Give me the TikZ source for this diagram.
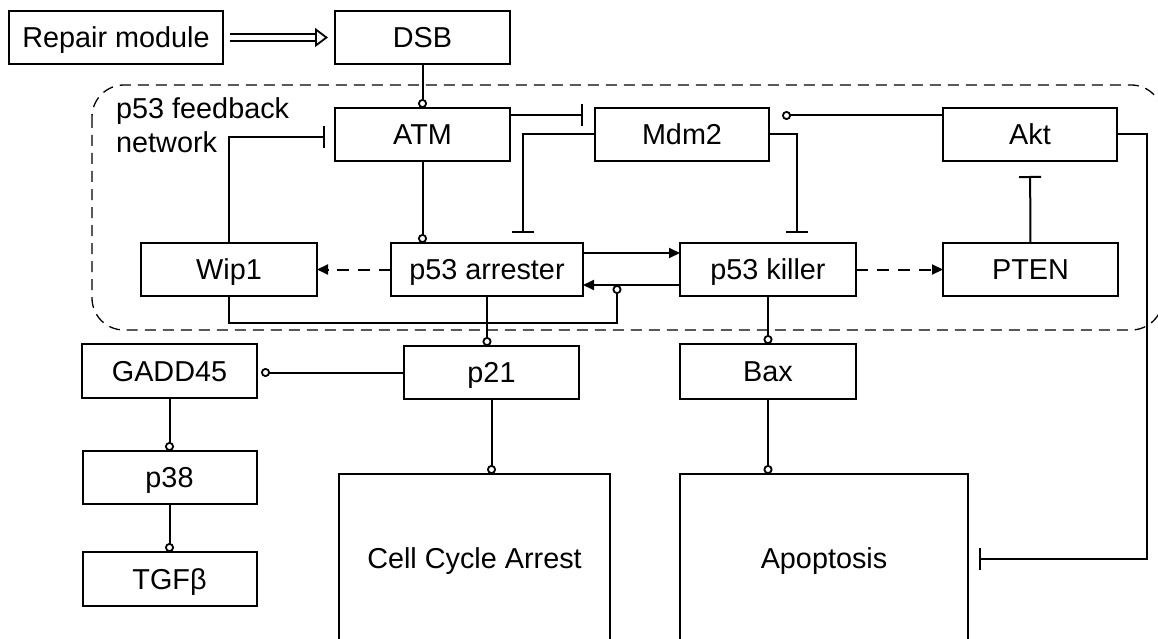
\documentclass[tikz,border=0pt]{standalone}
\usepackage{fontspec}
\setmainfont{Liberation Sans}
\usetikzlibrary{arrows.meta,positioning}

\begin{document}
\begin{tikzpicture}[
  x=1pt, y=-1pt,
  box/.style={rectangle, draw=black, line width=2pt, inner sep=0pt, outer sep=0pt,
              minimum width=175pt, minimum height=53pt,
              text height=20.6pt, text depth=0pt,
              font=\fontsize{28.8}{34}\selectfont},
  link/.style={line width=2pt},
  act/.style={link, -{Circle[fill=white, length=9pt, line width=1.8pt]}},
  inh/.style={link, -{Bar[width=22pt]}},
  arrow/.style={link, -{Triangle[length=11pt, width=10pt]}},
  darrow/.style={arrow, dash pattern=on 12pt off 9pt},
  hollow/.style={double, double distance=5pt, line width=1.8pt,
                 -{Triangle[open, length=13pt, width=19pt, line width=1.8pt]},
                 shorten <=7pt, shorten >=7pt},
  frame/.style={draw, line width=1.3pt, dash pattern=on 11pt off 7pt,
                rounded corners=32pt}
]
\useasboundingbox (0,0) rectangle (1158,639);
\clip (0,0) rectangle (1158,639);

% p53 feedback network outline
\draw[frame] (92,85) rectangle (1163,330);
\node[anchor=north west, inner sep=0pt, align=left,
      font=\fontsize{28.8}{34}\selectfont] (netlabel) at (116,97) {p53 feedback\\network};

\node[box, minimum width=214pt] (repair) at (116,37.5) {Repair module};
\node[box, right=112pt of repair] (dsb)  {DSB};
\node[box, below=44pt of dsb]     (atm)  {ATM};
\node[box, minimum width=174pt, right=85pt of atm]   (mdm2) {Mdm2};
\node[box, minimum width=174pt, right=174pt of mdm2] (akt)  {Akt};

\node[box, minimum width=192pt] (arrester) at (487,269.5) {p53 arrester};
\node[box, minimum width=176pt, left=74pt of arrester]  (wip1)   {Wip1};
\node[box, minimum width=176pt, right=97pt of arrester] (killer) {p53 killer};
\node[box, right=87pt of killer] (pten) {PTEN};

\node[box, minimum height=54pt] (gadd) at (169.5,371) {GADD45};
\node[box, minimum width=174pt, below=53pt of gadd] (p38) {p38};
\node[box, minimum width=174pt, minimum height=54pt, below=48pt of p38] (tgf) {TGFβ};
\node[box] (p21) at (491.5,372.5) {p21};
\node[box, minimum width=176pt, minimum height=55pt] (bax) at (768,371.5) {Bax};
\node[box, minimum width=271pt, minimum height=169pt] (cca)  at (474.5,558.5) {Cell Cycle Arrest};
\node[box, minimum width=288pt, minimum height=169pt] (apop) at (824,558.5) {Apoptosis};

% Upstream signal
\draw[hollow] (repair) -- (dsb);
\draw[act] (dsb) -- (atm);

% Feedback loops
\draw[inh, shorten >=12pt] ([yshift=19.5pt]atm.east) -- ([yshift=19.5pt]mdm2.west);
\draw[act, shorten >=13pt] ([yshift=19pt]akt.west) -- ([yshift=19pt]mdm2.east);
\draw[inh, shorten >=10pt] (mdm2.west) -| ([xshift=36pt]arrester.north);
\draw[inh, shorten >=10pt] (mdm2.east) -| ([xshift=29pt]killer.north);
\draw[inh, shorten >=10pt] (wip1.north) |- ([yshift=-2.5pt]atm.west);
\draw[act] (atm.south) -- (atm.south |- arrester.north);
\draw[inh, shorten >=15pt] (pten) -- (akt);
\draw[arrow] ([yshift=16.5pt]arrester.east) -- ([yshift=16.5pt]killer.west);
\draw[arrow] ([yshift=-15.5pt]killer.west) -- ([yshift=-15.5pt]arrester.east);
\draw[darrow] (arrester) -- (wip1);
\draw[darrow] (killer) -- (pten);
\coordinate (wipjoin) at ([xshift=34pt, yshift=-15.5pt]arrester.east);
\draw[act] (wip1.south) |- ([yshift=-38pt]wipjoin) -- (wipjoin);

% Cell fate
\draw[act] (arrester.south) -- (arrester.south |- p21.north);
\draw[act] (killer) -- (bax);
\draw[act, shorten >=4pt] (p21.west) -- (p21.west -| gadd.east);
\draw[act] (p21.south) -- (p21.south |- cca.north);
\draw[act] (bax.south) -- (bax.south |- apop.north);
\draw[act] (gadd.south) -- (gadd.south |- p38.north);
\draw[act] (p38) -- (tgf);
\draw[inh, shorten >=11pt] (akt.east) -- ++(30pt,0) |- (apop.east);

\end{tikzpicture}
\end{document}
